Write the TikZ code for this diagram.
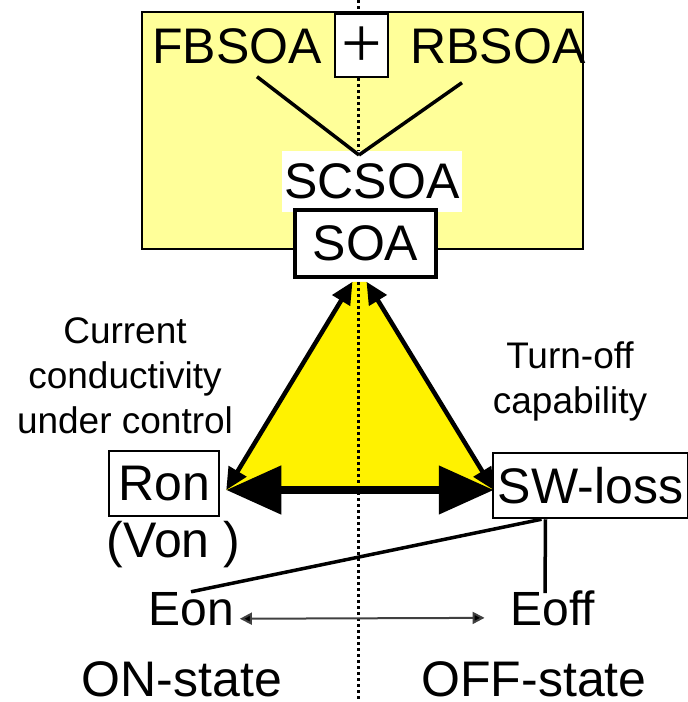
\documentclass[tikz,border=0pt]{standalone}
\usepackage{fontspec}
\setmainfont{Liberation Sans}
\newfontfamily\plusfont{Liberation Serif}
\usetikzlibrary{arrows.meta,backgrounds}
\definecolor{paleyellow}{RGB}{255,255,153}
\tikzset{
  bigtext/.style={font=\fontsize{50}{60}\selectfont, inner sep=0pt},
  smalltext/.style={font=\fontsize{37}{45}\selectfont, inner sep=0pt, align=center},
  boxed/.style={draw, fill=white, bigtext},
  edgetip/.tip={Triangle[length=22pt,width=20pt]},
  bigtip/.tip={Triangle[length=55pt,width=47pt]},
  thintip/.tip={Triangle[length=12pt,width=12pt,fill=black]},
}
\begin{document}
\begin{tikzpicture}[x=1pt,y=-1pt]
  \useasboundingbox (0,0) rectangle (688,702);
  \node[boxed, line width=1.5pt, minimum width=53pt, minimum height=63pt,
    font=\plusfont\fontsize{72}{72}\selectfont, text height=43pt, text depth=0pt] (plus) at (361.5,45.5) {+};
  \node[bigtext, anchor=base] (fbsoa) at (237,63) {FBSOA};
  \node[bigtext, anchor=base] (rbsoa) at (498,63) {RBSOA};
  \node[bigtext, fill=white, minimum width=180pt, minimum height=61pt] (scsoa) at (372,181.5) {SCSOA};
  \node[boxed, line width=3.5pt, minimum width=141pt, minimum height=67pt] (soa) at (365.5,243.5) {SOA};
  \node[boxed, line width=2.5pt, minimum width=110pt, minimum height=65pt] (ron) at (164,483.5) {Ron};
  \node[boxed, line width=2.5pt, minimum width=195pt, minimum height=65pt] (swloss) at (590.5,485.5) {SW-loss};
  \node[bigtext, anchor=base] (von) at (173.5,557) {(Von )};
  \node[smalltext, anchor=base] (current) at (125,433) {Current\\conductivity\\under control};
  \node[smalltext, anchor=base] (turnoff) at (570,413) {Turn-off\\capability};
  \node[bigtext, font=\fontsize{48}{58}\selectfont, anchor=base] (eon) at (191,625) {Eon};
  \node[bigtext, font=\fontsize{48}{58}\selectfont, anchor=base] (eoff) at (553,625) {Eoff};
  \node[bigtext, anchor=base] (onstate) at (182,696) {ON-state};
  \node[bigtext, anchor=base] (offstate) at (534,696) {OFF-state};
  \coordinate (join) at (359,155);
  \coordinate (apexl) at ([xshift=-13pt,yshift=-3pt]soa.south);
  \coordinate (apexr) at ([xshift=1pt,yshift=-3pt]soa.south);
  \coordinate (lc) at ([xshift=6pt,yshift=-6.5pt]ron.east);
  \coordinate (rc) at ([xshift=2pt,yshift=-4.5pt]swloss.west);
  \begin{pgfonlayer}{background}
    \draw[line width=2pt, fill=paleyellow] (142,12) rectangle (583,249);
    \fill[yellow] (apexl) -- (apexr) -- (rc) -- (lc) -- cycle;
    \draw[line width=3pt, dash pattern=on 3pt off 3pt] (358,0) -- (358,702);
  \end{pgfonlayer}
  \begin{scope}[line width=3.5pt]
    \draw ([xshift=20pt,yshift=-13pt]fbsoa.south) -- (join);
    \draw ([xshift=-36pt,yshift=-19pt]rbsoa.south) -- (join);
    \draw ([xshift=-49pt]swloss.south) -- (eon.north);
    \draw ([xshift=-45pt]swloss.south) -- ([xshift=-8pt,yshift=-3pt]eoff.north);
  \end{scope}
  \draw[line width=4.5pt, edgetip-edgetip] (apexl) -- (lc);
  \draw[line width=4.5pt, edgetip-edgetip] (apexr) -- (rc);
  \draw[line width=8pt, bigtip-bigtip] (lc) -- (rc);
  \draw[line width=2pt, black!75, thintip-thintip]
    ([xshift=6pt,yshift=-10pt]eon.east) -- ([xshift=-26pt,yshift=-10pt]eoff.west);
\end{tikzpicture}
\end{document}
